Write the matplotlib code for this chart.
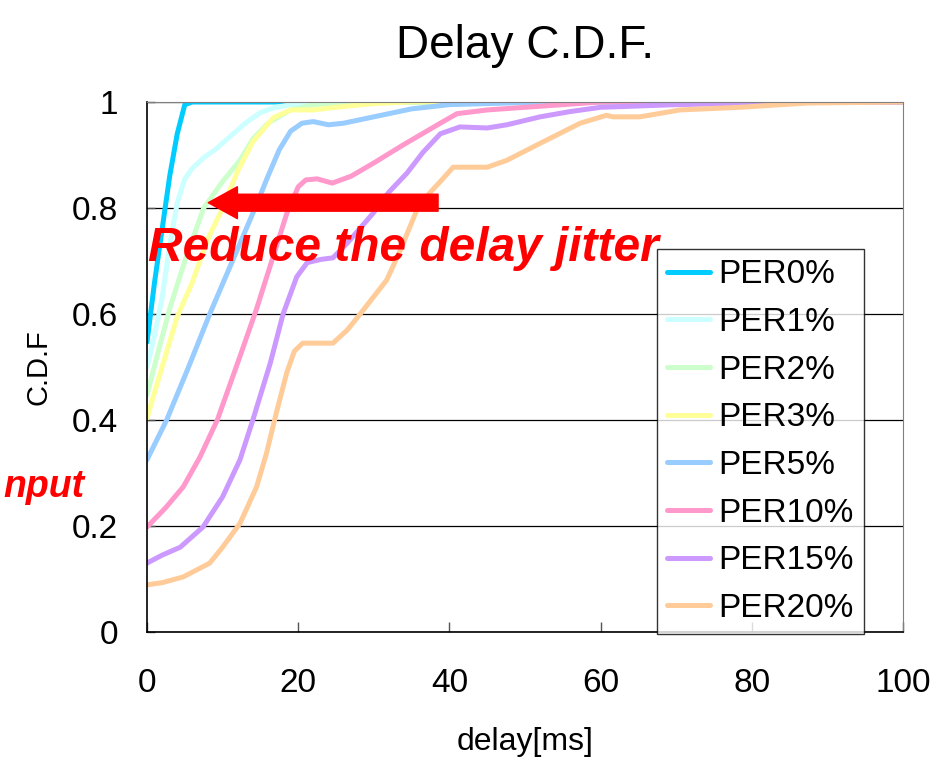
import matplotlib
matplotlib.use("Agg")
import matplotlib.pyplot as plt

plt.rcParams['font.family'] = ['Liberation Sans', 'DejaVu Sans']

# DATA
labels = ['PER0%', 'PER1%', 'PER2%', 'PER3%', 'PER5%', 'PER10%', 'PER15%', 'PER20%']
colors = ['#00CCFF', '#CCFFFF', '#CCFFCC', '#FFFF99', '#99CCFF', '#FF99CC', '#CC99FF', '#FFCC99']

x_per0 = [0, 1, 2, 3, 4, 5, 6, 100]
y_per0 = [0.547, 0.66, 0.76, 0.86, 0.94, 0.995, 1.0, 1.0]

x_per1 = [0, 1, 2, 3, 4, 5, 6, 7.5, 9, 11, 13, 15, 17, 20, 25, 100]
y_per1 = [0.50, 0.56, 0.63, 0.73, 0.81, 0.855, 0.875, 0.895, 0.91, 0.935, 0.96, 0.98, 0.99, 0.997, 1.0, 1.0]

x_per2 = [0, 1.5, 3, 5, 7.5, 10, 12.3, 14, 16, 19, 22, 28, 100]
y_per2 = [0.447, 0.53, 0.61, 0.70, 0.80, 0.85, 0.89, 0.93, 0.96, 0.985, 0.995, 1.0, 1.0]

x_per3 = [0, 2, 4, 6, 8, 10, 12, 14, 16.7, 19, 22, 25, 30, 35, 100]
y_per3 = [0.404, 0.50, 0.595, 0.66, 0.74, 0.80, 0.87, 0.925, 0.97, 0.985, 0.985, 0.99, 0.997, 1.0, 1.0]

x_per5 = [0, 2.6, 5.5, 8.3, 11.3, 14.3, 16, 17.5, 19, 20.5, 22, 24, 26, 30, 35, 40, 50, 60, 100]
y_per5 = [0.325, 0.40, 0.50, 0.60, 0.70, 0.80, 0.86, 0.91, 0.945, 0.96, 0.963, 0.957, 0.96, 0.972, 0.987, 0.995, 0.999, 1.0, 1.0]

x_per10 = [0, 2.5, 4.8, 7, 9.3, 12.3, 14.5, 16.5, 18.5, 20, 21, 22.5, 24.5, 27, 30, 34, 38.8, 41, 45, 50, 55, 60, 100]
y_per10 = [0.198, 0.235, 0.274, 0.33, 0.40, 0.52, 0.61, 0.70, 0.79, 0.84, 0.853, 0.855, 0.847, 0.86, 0.885, 0.92, 0.96, 0.978, 0.985, 0.99, 0.995, 1.0, 1.0]

x_per15 = [0, 2, 4.4, 7.4, 10, 12.3, 14, 16.3, 18, 19.8, 21.2, 23, 24.6, 26.5, 29.9, 32, 34.4, 36.5, 38.8, 41.4, 45, 47.6, 52, 56, 60, 70, 80, 90, 100]
y_per15 = [0.13, 0.145, 0.16, 0.198, 0.255, 0.325, 0.40, 0.507, 0.60, 0.67, 0.697, 0.703, 0.706, 0.734, 0.79, 0.83, 0.866, 0.905, 0.94, 0.953, 0.951, 0.957, 0.972, 0.982, 0.99, 0.995, 0.998, 1.0, 1.0]

x_per20 = [0, 2, 4.8, 8.3, 10, 12.3, 14.5, 15.8, 17.1, 18.5, 19.5, 20.6, 24.6, 26.5, 28.2, 31.7, 33.5, 35.8, 37.5, 38.8, 40.5, 45, 47.6, 52, 57.3, 60.8, 61.6, 65.2, 70.5, 78.4, 87.3, 100]
y_per20 = [0.089, 0.093, 0.104, 0.13, 0.16, 0.205, 0.274, 0.337, 0.413, 0.49, 0.53, 0.545, 0.545, 0.57, 0.60, 0.664, 0.72, 0.80, 0.83, 0.85, 0.877, 0.877, 0.89, 0.922, 0.96, 0.975, 0.972, 0.972, 0.985, 0.99, 0.998, 1.0]

series = [(x_per0, y_per0), (x_per1, y_per1), (x_per2, y_per2), (x_per3, y_per3),
          (x_per5, y_per5), (x_per10, y_per10), (x_per15, y_per15), (x_per20, y_per20)]

# PLOT
fig = plt.figure(figsize=(9.43, 7.6), dpi=100)
ax = fig.add_axes([147/943, 1-632/760, 756/943, 530/760])

for (xs, ys), lab, col in zip(series, labels, colors):
    ax.plot(xs, ys, color=col, lw=3.6, label=lab, solid_capstyle='round', solid_joinstyle='round')

ax.set_xlim(0, 100)
ax.set_ylim(0, 1)
ax.set_xticks([0, 20, 40, 60, 80, 100])
ax.set_yticks([0, 0.2, 0.4, 0.6, 0.8, 1])
ax.set_yticklabels(['0', '0.2', '0.4', '0.6', '0.8', '1'])
ax.tick_params(axis='x', direction='in', length=7, width=1, color='#555555', labelsize=24, pad=26)
ax.tick_params(axis='y', direction='in', length=6, width=1, color='#555555', labelsize=24, pad=21)
ax.set_axisbelow(True)
ax.grid(axis='y', color='black', lw=0.9)
for s in ['left', 'bottom']:
    ax.spines[s].set_color('black')
    ax.spines[s].set_linewidth(1.2)
ax.spines['right'].set_color('#808080')
ax.spines['top'].set_color('#808080')

ax.set_title('Delay C.D.F.', fontsize=33, pad=32)
ax.set_xlabel('delay[ms]', fontsize=23, labelpad=20)
ax.set_ylabel('C.D.F', fontsize=21, labelpad=14)

leg = ax.legend(loc='lower left', bbox_to_anchor=(0.6746, -0.004), borderaxespad=0,
                fontsize=24, frameon=True, fancybox=False, edgecolor='black',
                handlelength=1.3, handletextpad=0.25, labelspacing=0.5, borderpad=0.3)
leg.get_frame().set_linewidth(1)

# annotations
ax.annotate('', xy=(8.1, 0.81), xytext=(38.5, 0.81),
            arrowprops=dict(arrowstyle='simple,head_length=1.05,head_width=1.15,tail_width=0.61',
                            mutation_scale=20, color='#FF0000', shrinkA=0, shrinkB=0))
ax.text(0.1, 0.70, 'Reduce the delay jitter', color='#FF0000', fontsize=34.5,
        fontweight='bold', fontstyle='italic', ha='left', va='baseline')
fig.text(3/943, 1-497/760, 'nput', color='#FF0000', fontsize=27,
         fontweight='bold', fontstyle='italic', ha='left', va='baseline')

fig.savefig('out.png', dpi=100)
